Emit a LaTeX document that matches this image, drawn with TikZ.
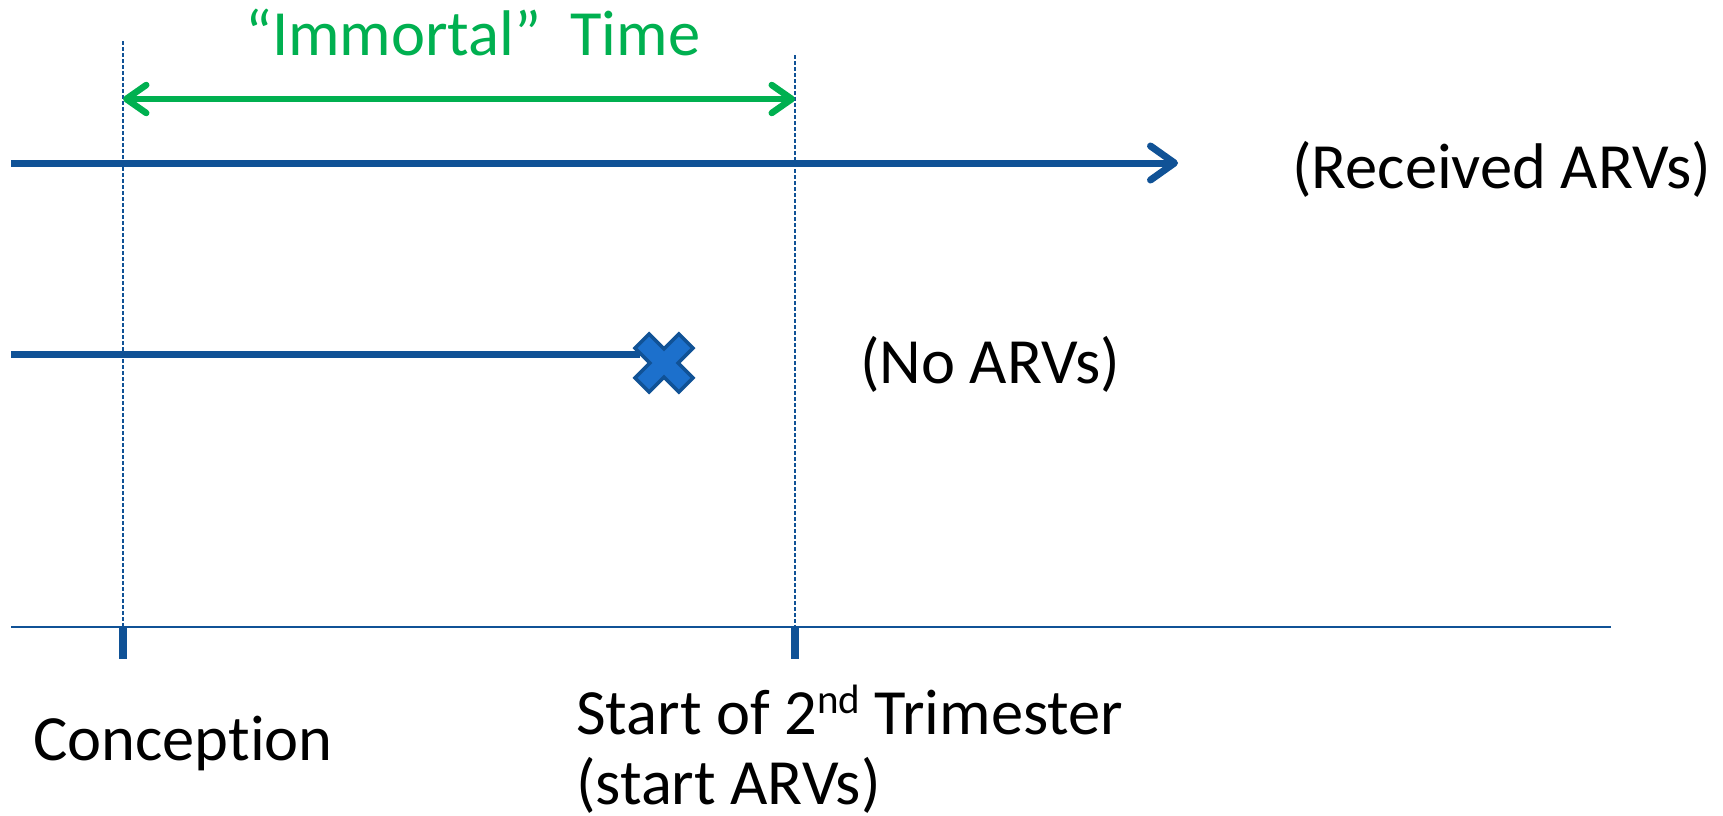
\documentclass[tikz,border=0pt]{standalone}
\usepackage{fontspec}
\setmainfont{Carlito}[Ligatures=NoCommon]
\usetikzlibrary{arrows.meta}
\definecolor{lineblue}{RGB}{16,82,150}
\definecolor{xblue}{RGB}{28,112,204}
\definecolor{imgreen}{RGB}{0,176,80}
\newcommand{\supnd}[1]{\raisebox{21pt}{\fontsize{41}{41}\selectfont #1}}
\tikzset{
  txt/.style={anchor=base west, inner sep=0pt, font=\fontsize{64.5}{69}\selectfont},
  timeline/.style={draw=lineblue, line width=7pt},
  guide/.style={draw=lineblue, line width=1.3pt, dash pattern=on 4pt off 2pt},
  tickmark/.style={draw=lineblue, line width=8pt},
  barb/.style={-{Straight Barb[length=24pt, width=34pt, line cap=round, line join=round]}},
}
\begin{document}
\begin{tikzpicture}[x=1pt, y=-1pt]
\useasboundingbox[fill=white] (0,0) rectangle (1723,815);
% coordinates
\coordinate (t1s) at (11,163);
\coordinate (t1e) at (1178,163);
\coordinate (t2s) at (11,354);
\coordinate (t2e) at (640,354);
\coordinate (xc) at (664,363);
\coordinate (axs) at (11,627);
\coordinate (axe) at (1611,627);
\coordinate (concTop) at (123,41);
\coordinate (concAx) at (123,627);
\coordinate (concTick) at (123,659);
\coordinate (trimTop) at (795,55);
\coordinate (trimAx) at (795,627);
\coordinate (trimTick) at (795,659);
\coordinate (imL) at (123,99);
\coordinate (imR) at (795,99);
% guides
\draw[guide] (concTop) -- (concAx);
\draw[guide] (trimTop) -- (trimAx);
% axis
\draw[draw=lineblue, line width=2.5pt] (axs) -- (axe);
\draw[tickmark] (concAx) -- (concTick);
\draw[tickmark] (trimAx) -- (trimTick);
% immortal time arrow
\draw[draw=imgreen, line width=6.5pt, {Straight Barb[length=20pt, width=28pt, line cap=round, line join=round]}-{Straight Barb[length=20pt, width=28pt, line cap=round, line join=round]}] (imL) -- (imR);
% timelines
\draw[timeline, barb] (t1s) -- (t1e);
\draw[timeline] (t2s) -- (t2e);
\draw[fill=xblue, draw=lineblue, line width=3.5pt, line join=miter, shift={(xc)}, rotate=45]
  (-10,-31) -- (10,-31) -- (10,-10) -- (31,-10) -- (31,10) -- (10,10) -- (10,31)
  -- (-10,31) -- (-10,10) -- (-31,10) -- (-31,-10) -- (-10,-10) -- cycle;
% texts
\node[txt, text=imgreen] (imtext) at (245,55) {“Immortal”\ \ Time};
\node[txt] (recv) at (1292,188) {(Received ARVs)};
\node[txt] (noarv) at (860,383) {(No ARVs)};
\node[txt] (conc) at (33,760) {Conception};
\node[txt] (trim1) at (576,734) {Start of 2\supnd{nd} Trimester};
\node[txt] (trim2) at (576,804) {(start ARVs)};
\end{tikzpicture}
\end{document}
